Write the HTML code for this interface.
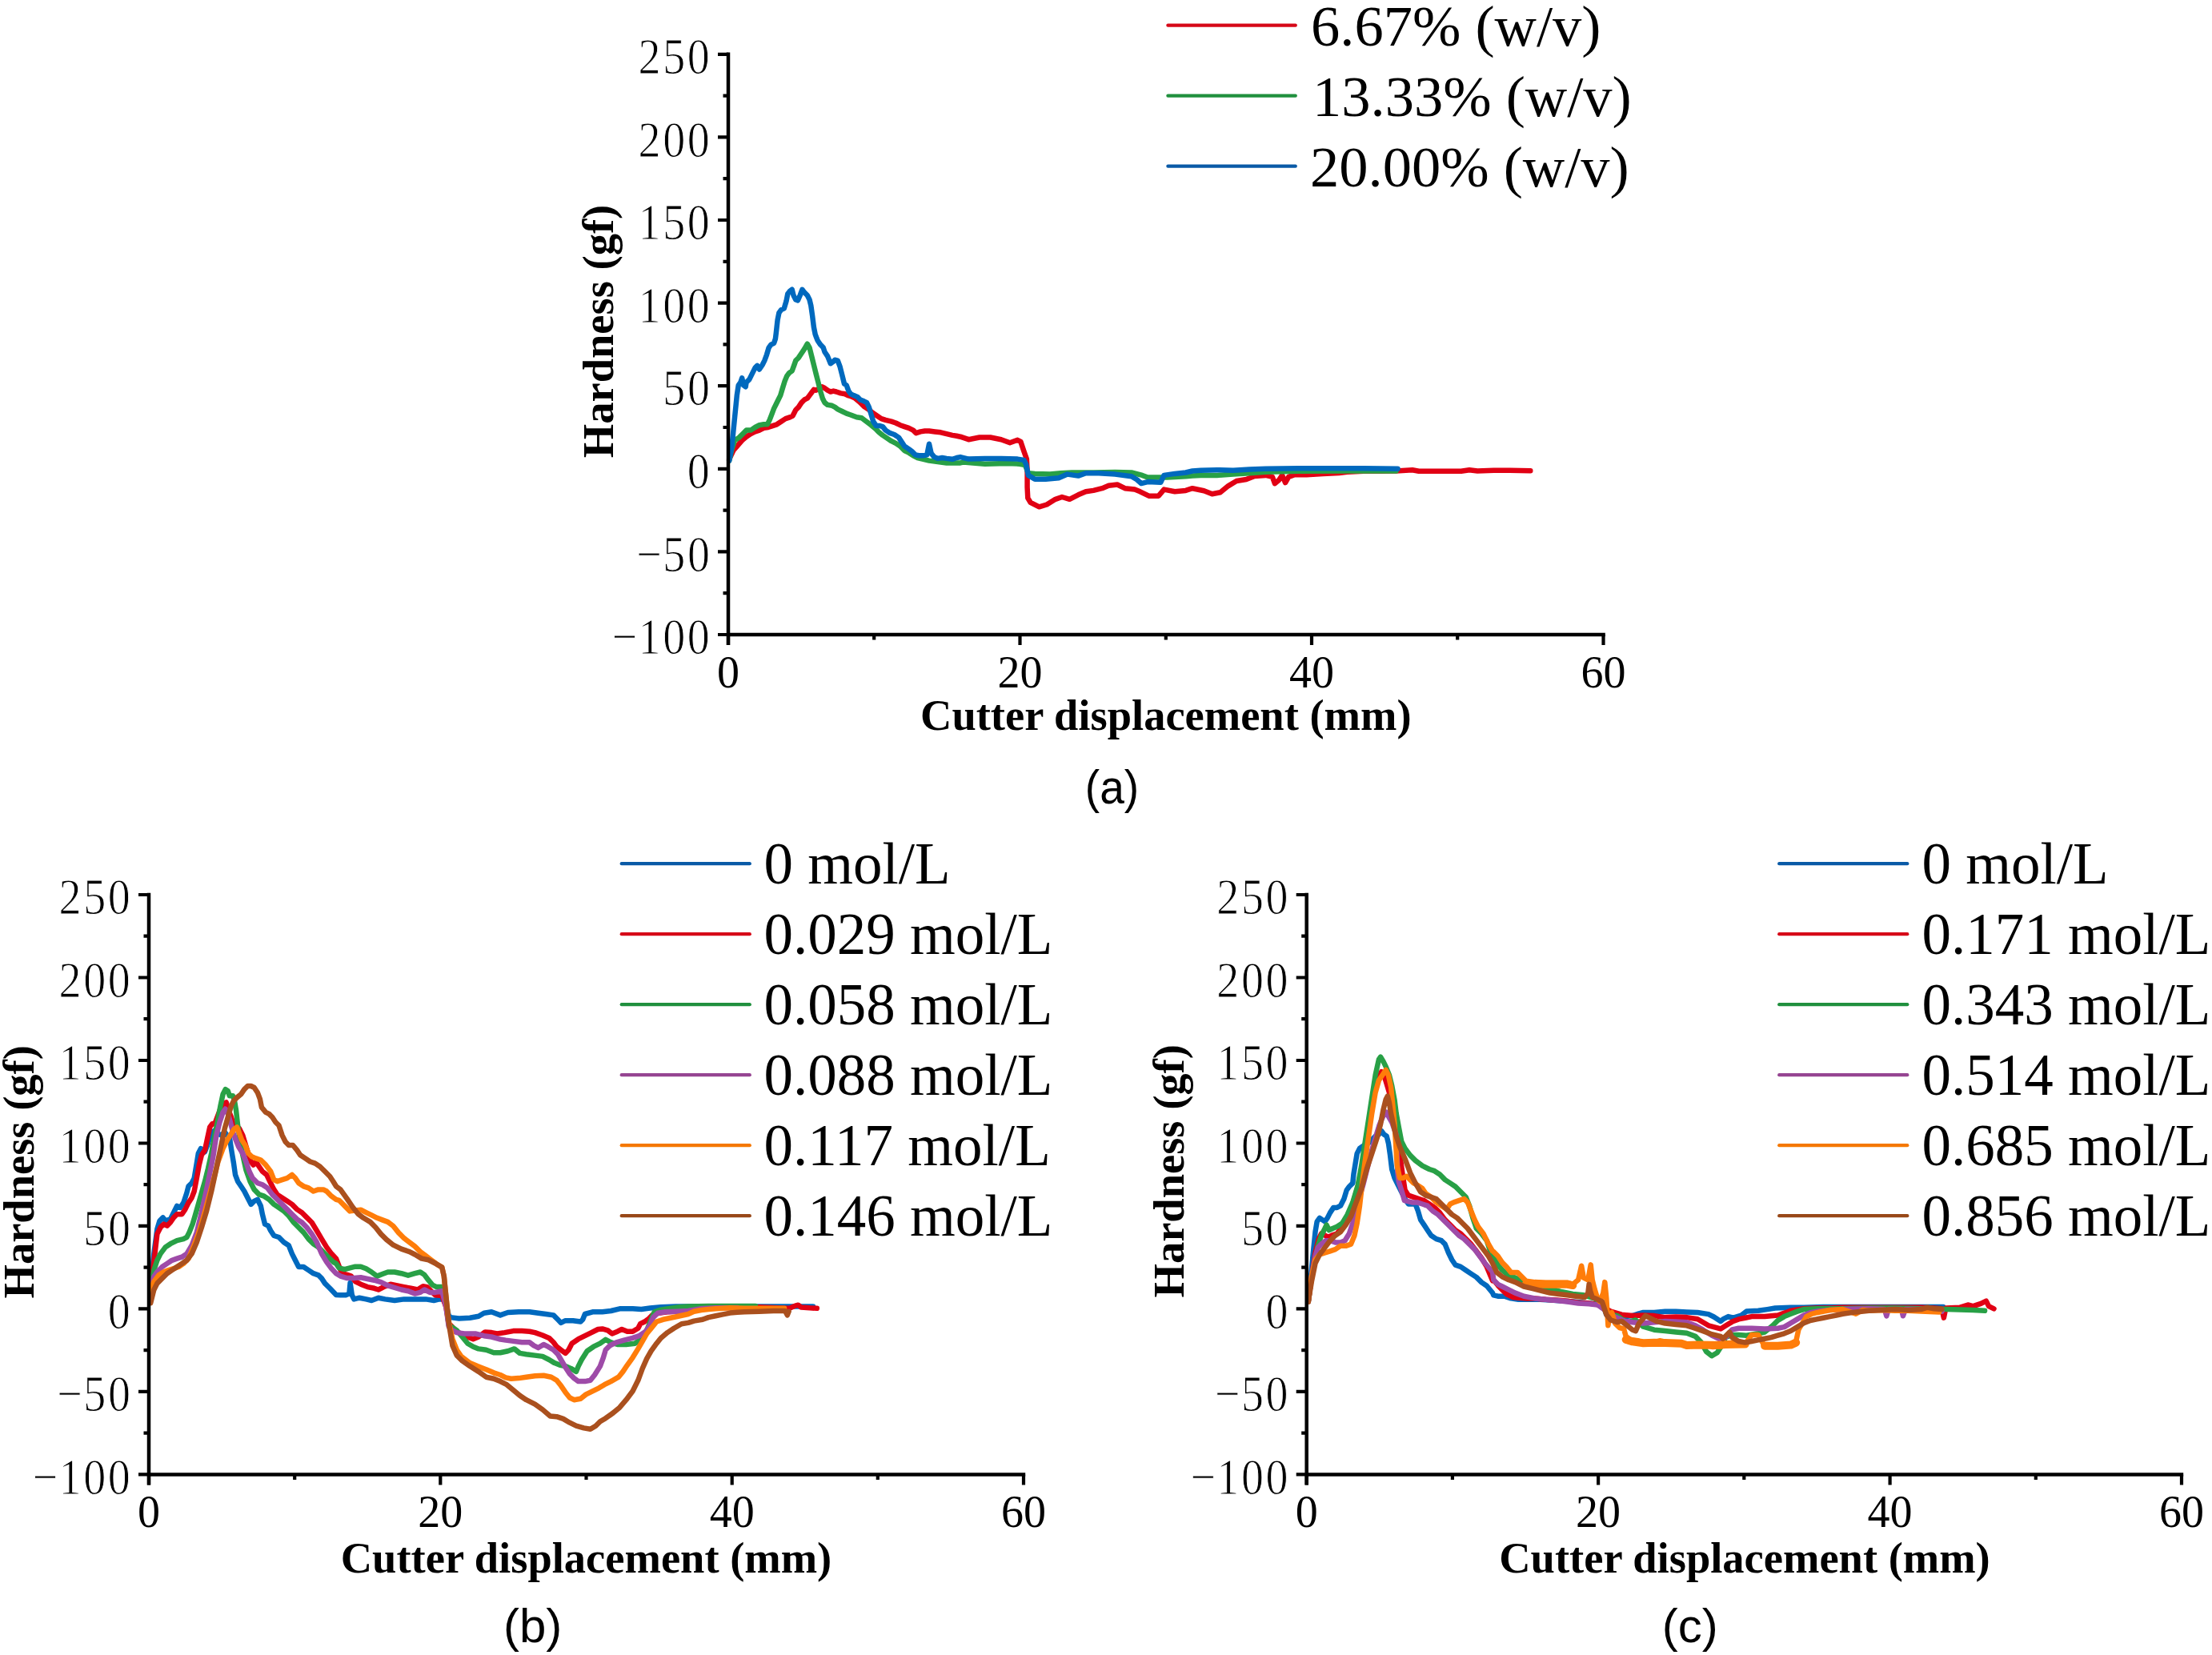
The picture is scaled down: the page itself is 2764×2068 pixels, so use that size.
<!DOCTYPE html>
<html><head><meta charset="utf-8"><title>Hardness vs cutter displacement</title>
<style>html,body{margin:0;padding:0;background:#fff;overflow:hidden}svg{display:block}</style>
</head><body>
<svg width="2764" height="2068" viewBox="0 0 2764 2068" font-family="'Liberation Serif','Times New Roman',serif" fill="#000">
<rect width="2764" height="2068" fill="#fff"/>
<path d="M911.2 573.8 L916.3 563 L921.8 556.6 L927.2 550.3 L932.6 545.7 L938.1 542.1 L943.5 539.4 L948.9 537.6 L954.4 534.9 L959.8 534 L965.3 532.1 L970.7 530.3 L976.1 526.7 L981.6 523.1 L987 521.3 L990.6 519.5 L994.3 512.2 L997.9 508.6 L1001.5 503.1 L1005.1 499.5 L1008.8 497.7 L1011.5 494.1 L1014.2 490.5 L1016.9 486.8 L1019.6 487.7 L1023.3 485.9 L1026.9 483.2 L1030.5 485 L1034.1 487.7 L1037.8 489.5 L1041.4 488.6 L1045 489.5 L1050.5 491.4 L1055.9 492.3 L1059.5 494.1 L1063.1 495 L1068.6 497.7 L1074 502.2 L1079.5 507.7 L1084.9 511.3 L1090.3 515.8 L1095.8 519.5 L1101.2 523.1 L1106.6 524.9 L1113.9 526.7 L1119.3 528.5 L1124.8 531.2 L1130.2 533.1 L1135.6 534.9 L1141.1 537.6 L1144.7 541.2 L1150.2 539.4 L1155.6 538.5 L1161 538.5 L1168.3 539.4 L1175.5 540.3 L1182.8 542.1 L1190 543.9 L1195.5 544.8 L1200 545.7 L1210.3 549.2 L1223.9 546.5 L1237.5 546.5 L1251 549.2 L1261.9 553.2 L1271.4 549.8 L1275.4 551.9 L1279.5 564.1 L1282.9 573.6 L1283.6 588.5 L1283.6 608.8 L1284.3 622.4 L1287.6 627.8 L1298.5 633.3 L1308 630.5 L1318.8 623.8 L1327 621 L1336.5 623.8 L1347.3 618.3 L1356.8 614.3 L1366.3 612.9 L1377.2 610.2 L1385.3 606.8 L1396.1 605.5 L1405.6 610.2 L1417.8 611.6 L1424.6 614.3 L1435.5 619.7 L1447.7 619.7 L1454.5 611.6 L1468 614.3 L1481.6 612.9 L1490 610.2 L1504.4 613.2 L1514.6 617.3 L1524.8 615.3 L1534.9 607.1 L1545.1 601 L1557.3 599 L1567.5 594.9 L1581.7 593.9 L1589.9 595.9 L1592.9 604.1 L1598 600 L1602.1 593.9 L1606.1 603.1 L1610.2 595.9 L1618.3 592.9 L1632.6 593.3 L1652.9 591.9 L1673.3 590.9 L1683.4 589.8 L1703.8 588.8 L1724.1 588.8 L1744.5 588.4 L1764.8 587.2 L1772.9 588.8 L1795.3 588.8 L1825.8 588.8 L1836 587.2 L1846.2 588.4 L1866.5 587.8 L1886.9 587.8 L1912.3 588.2" stroke="#e10014" stroke-width="6.5" fill="none" stroke-linejoin="round" stroke-linecap="round"/>
<path d="M911.2 575.6 L914.5 561.1 L918.1 550.3 L923.6 546.6 L929 541.2 L932.6 537.6 L938.1 537.6 L943.5 534 L948.9 531.2 L954.4 530.3 L958.9 530.3 L961.6 524.9 L964.4 517.6 L967.1 510.4 L969.8 505 L972.5 499.5 L975.2 494.1 L977.9 485 L980.7 476 L983.4 469.6 L986.1 466 L989.7 463.3 L992.4 456 L994.3 450.6 L997.9 446.9 L1001.5 441.5 L1005.1 436.1 L1008.8 429.7 L1011.5 434.3 L1014.2 445.1 L1016.9 456 L1019.6 466.9 L1022.4 477.8 L1025.1 488.6 L1027.8 497.7 L1030.5 503.1 L1034.1 505.9 L1039.6 506.8 L1043.2 508.6 L1046.8 511.3 L1052.3 514 L1057.7 516.7 L1063.1 518.5 L1070.4 521.3 L1076.7 522.2 L1081.3 525.8 L1088.5 531.2 L1094 535.8 L1097.6 539.4 L1103 543.9 L1108.5 547.6 L1113.9 551.2 L1119.3 553.9 L1124.8 557.5 L1130.2 563 L1135.6 565.7 L1141.1 569.3 L1146.5 572 L1153.8 573.8 L1161 575.6 L1168.3 576.6 L1175.5 577.5 L1182.8 578.4 L1190 578.4 L1200 578.4 L1203.6 577.6 L1230.7 579.7 L1257.8 579 L1274.1 579.7 L1280.9 581 L1284.9 591.2 L1293.1 591.9 L1312.1 592.6 L1325.6 591.2 L1339.2 590.5 L1366.3 590.5 L1393.4 589.9 L1413.8 590.5 L1427.3 593.9 L1434.1 596.6 L1450.4 596.6 L1458.5 596.6 L1468 596 L1481.6 595.3 L1490 594.6 L1500.3 593.9 L1520.7 593.9 L1541 592.5 L1561.4 591.3 L1581.7 589.8 L1622.4 588.8 L1683.4 588.4 L1744.5 588.4" stroke="#28a046" stroke-width="6.5" fill="none" stroke-linejoin="round" stroke-linecap="round"/>
<path d="M911.2 575.6 L914.5 557.5 L918.1 521.3 L920.8 494.1 L922.7 481.4 L925.4 477.8 L927.2 472.3 L929 481.4 L931.7 483.2 L932.6 477.8 L936.3 474.1 L939.9 466.9 L943.5 459.6 L946.2 456.9 L948.9 461.5 L952.6 456 L955.3 450.6 L958 443.3 L960.7 434.3 L963.4 430.6 L967.1 428.8 L968.9 423.4 L969.8 416.1 L971.6 399.8 L973.4 390.8 L976.1 387.1 L979.8 385.3 L982.5 376.3 L984.3 367.2 L987 363.6 L989.7 361.8 L991.5 369 L994.3 374.4 L997 375.3 L999.7 369 L1002.4 361.8 L1005.1 365.4 L1008.8 369 L1011.5 374.4 L1013.3 381.7 L1015.1 394.4 L1016.9 408.9 L1018.7 417.9 L1021.5 425.2 L1025.1 430.6 L1028.7 434.3 L1030.5 439.7 L1034.1 445.1 L1037.8 454.2 L1040.5 452.4 L1043.2 449.7 L1046.8 450.6 L1049.5 457.8 L1052.3 468.7 L1055 479.6 L1057.7 481.4 L1060.4 488.6 L1063.1 492.3 L1066.8 494.1 L1071.3 495.9 L1074.9 499.5 L1079.5 501.3 L1083.1 503.1 L1085.8 508.6 L1088.5 517.6 L1091.2 526.7 L1094.9 532.1 L1099.4 532.1 L1103 533.1 L1106.6 537.6 L1112.1 541.2 L1117.5 543 L1123 546.6 L1126.6 552.1 L1130.2 557.5 L1135.6 561.1 L1139.3 563.9 L1143.8 568.4 L1148.3 569.3 L1153.8 569.3 L1158.3 568.4 L1161 554.8 L1163.7 566.6 L1167.4 571.1 L1171.9 572.9 L1177.3 572 L1182.8 572.9 L1190 573.8 L1195.5 572 L1200 571.1 L1210.3 573.6 L1230.7 572.9 L1251 572.9 L1271.4 573.6 L1279.5 574.9 L1282.2 580.4 L1284.9 593.9 L1293.1 598.7 L1306.6 598.7 L1322.9 597.3 L1333.8 592.6 L1347.3 594.6 L1356.8 591.2 L1373.1 591.2 L1393.4 592.6 L1413.8 595.3 L1420.6 599.3 L1426 604.1 L1434.1 602.1 L1450.4 602.7 L1454.5 593.9 L1468 591.9 L1481.6 590.5 L1490 588.5 L1500.3 587.8 L1520.7 587.2 L1541 587.8 L1561.4 586.4 L1581.7 585.8 L1622.4 585.2 L1663.1 585.2 L1703.8 585.2 L1746.5 585.8" stroke="#0069be" stroke-width="6.5" fill="none" stroke-linejoin="round" stroke-linecap="round"/>
<path d="M188.2 1607.7 L192.3 1566.6 L196.4 1535.8 L199.5 1525.5 L203.6 1521.4 L206.7 1525.5 L212.9 1523.4 L217 1515.2 L221.1 1507 L225.2 1509 L229.3 1502.9 L233.4 1490.5 L235.5 1482.3 L239.6 1478.2 L242.7 1472.1 L245.8 1453.6 L247.8 1441.2 L250.9 1435.1 L256 1439.2 L259.1 1431 L262.2 1420.7 L265.3 1414.5 L268.4 1412.5 L272.5 1416.6 L276.6 1418.6 L280.7 1414.5 L283.8 1418.6 L286.8 1420.7 L288.9 1435.1 L292 1453.6 L294 1467.9 L297.1 1476.2 L301.2 1482.3 L305.3 1488.5 L309.5 1496.7 L313.6 1504.9 L317.7 1500.8 L321.8 1498.8 L325.9 1507 L327.9 1517.3 L331 1529.6 L335.1 1531.6 L338.2 1537.8 L342.3 1544 L348.5 1546 L354.7 1552.2 L360.8 1556.3 L364.9 1566.6 L369 1574.8 L373.2 1583 L379.3 1583 L385.5 1587.1 L391.6 1591.2 L397.8 1593.3 L401.9 1597.4 L406 1603.6 L412.2 1609.7 L420 1617.9 L425.4 1618.3 L432.1 1618.3 L436.4 1616.6 L437.6 1603 L439.8 1618.3 L442.3 1623.4 L449.1 1621.7 L457.5 1623.4 L464.3 1625 L472.8 1621.7 L481.2 1623.4 L493.1 1625 L504.9 1623.4 L518.4 1623.4 L532 1623.4 L542.1 1625 L548.9 1623.4 L554 1623.4 L557.4 1630.1 L560.7 1643.7 L562.7 1646.1 L573.6 1647.5 L587.1 1646.8 L598 1644.8 L604.8 1640.7 L614.2 1639.3 L625.1 1643.4 L634.6 1640 L648.2 1639.3 L661.7 1639.3 L672.6 1640.7 L682.1 1642 L691.6 1643.4 L697 1648.8 L701 1652.9 L706.5 1650.2 L716 1650.2 L725.5 1651.5 L728.2 1648.8 L730.9 1642 L740.4 1639.3 L752.6 1639.3 L763.4 1638 L774.3 1635.3 L790.6 1635.3 L801.4 1635.9 L812.3 1634.6 L825.8 1633.2 L844.8 1632.5 L860 1632.5 L870 1632.5 L1016 1632.5" stroke="#0069be" stroke-width="6.5" fill="none" stroke-linejoin="round" stroke-linecap="round"/>
<path d="M188.2 1607.7 L192.3 1576.8 L196.4 1541.9 L200.5 1533.7 L204.7 1529.6 L208.8 1531.6 L212.9 1527.5 L217 1521.4 L221.1 1517.3 L227.3 1517.3 L231.4 1511.1 L235.5 1502.9 L239.6 1496.7 L242.7 1488.5 L245.8 1472.1 L248.8 1455.6 L251.9 1443.3 L256 1437.1 L259.1 1422.7 L262.2 1408.4 L265.3 1404.2 L268.4 1404.2 L271.4 1396 L274.5 1387.8 L278.6 1379.6 L282.7 1377.5 L285.8 1387.8 L288.9 1396 L292 1406.3 L295.1 1406.3 L299.2 1410.4 L303.3 1418.6 L306.4 1428.9 L309.5 1439.2 L313.6 1451.5 L316.6 1455.6 L319.7 1451.5 L323.8 1457.7 L327.9 1463.8 L333.1 1467.9 L338.2 1478.2 L342.3 1486.4 L346.4 1492.6 L352.6 1496.7 L358.8 1500.8 L364.9 1504.9 L371.1 1511.1 L377.3 1515.2 L383.4 1521.4 L389.6 1527.5 L395.8 1537.8 L401.9 1548.1 L408.1 1558.4 L414.2 1566.6 L420 1572.7 L427.1 1591.2 L433.8 1592.9 L438.9 1594.6 L444 1601.4 L450.8 1604.7 L459.2 1608.1 L467.7 1609.8 L472.8 1611.5 L479.5 1608.1 L488 1604.7 L496.4 1606.4 L504.9 1608.1 L513.4 1609.8 L521.8 1611.5 L528.6 1607.3 L533.7 1608.1 L538.7 1613.2 L543.8 1618.3 L552.3 1619.1 L557.4 1633.5 L560.7 1653.8 L562.7 1655.6 L570.8 1663.7 L580.3 1669.2 L591.2 1673.2 L598 1670.5 L606.1 1664.4 L614.2 1665.1 L621 1666.5 L630.5 1665.1 L641.4 1663.1 L652.2 1663.1 L661.7 1663.7 L668.5 1665.1 L678 1668.5 L686.1 1671.9 L691.6 1677.3 L695.6 1682.7 L701 1686.8 L706.5 1690.9 L710.5 1686.8 L714.6 1678.7 L722.7 1673.2 L730.9 1669.2 L739 1665.1 L747.2 1661 L752.6 1660.4 L759.4 1662.4 L764.8 1666.5 L771.6 1663.7 L777 1661 L783.8 1663.7 L790.6 1663.7 L797.3 1659.7 L800.1 1654.2 L805.5 1651.5 L810.9 1647.5 L815 1643.4 L823.1 1640.7 L834 1639.3 L844.8 1638.7 L860 1638 L876.2 1633.2 L912.3 1633.2 L948.5 1633.2 L986.5 1634.8 L993.7 1631.6 L997.3 1630.7 L1000.9 1633.4 L1011.8 1634.3 L1020.8 1634.8" stroke="#e10014" stroke-width="6.5" fill="none" stroke-linejoin="round" stroke-linecap="round"/>
<path d="M188.2 1607.7 L192.3 1587.1 L196.4 1574.8 L200.5 1566.6 L206.7 1558.4 L212.9 1554.2 L221.1 1550.1 L229.3 1548.1 L233.4 1546 L236.5 1539.9 L240.6 1529.6 L243.7 1519.3 L247.8 1504.9 L251.9 1490.5 L256 1476.2 L260.1 1459.7 L264.2 1441.2 L268.4 1418.6 L272.5 1398.1 L275.5 1381.6 L278.6 1367.3 L281.7 1361.1 L284.8 1363.2 L286.8 1369.3 L291 1369.3 L293 1375.5 L295.1 1387.8 L297.1 1406.3 L300.2 1426.8 L303.3 1443.3 L307.4 1461.8 L312.5 1476.2 L317.7 1486.4 L323.8 1492.6 L330 1494.7 L336.2 1498.8 L342.3 1504.9 L348.5 1509 L354.7 1513.2 L360.8 1519.3 L367 1527.5 L373.2 1533.7 L379.3 1539.9 L385.5 1548.1 L391.6 1554.2 L397.8 1558.4 L404 1564.5 L410.1 1570.7 L416.3 1576.8 L420 1578.9 L423.7 1584.4 L430.5 1586.1 L437.2 1584.4 L444 1582.7 L450.8 1582.7 L457.5 1585.3 L464.3 1589.5 L471.1 1594.6 L477.8 1592 L484.6 1589.5 L493.1 1589.5 L501.5 1591.2 L510 1593.7 L518.4 1591.2 L525.2 1589.5 L530.3 1592.9 L535.4 1599.7 L540.4 1605.6 L545.5 1608.1 L553.1 1608.1 L557.4 1628.4 L560.7 1655.5 L562.7 1657 L570.8 1662.4 L577.6 1670.5 L584.4 1678.7 L591.2 1682.7 L598 1685.4 L607.5 1686.8 L617 1690.2 L625.1 1690.2 L634.6 1688.2 L642.7 1685.4 L649.5 1690.9 L657.6 1692.2 L668.5 1693.6 L678 1694.9 L686.1 1699 L692.9 1703.1 L699.7 1705.8 L706.5 1707.1 L713.3 1709.9 L720 1713.9 L722.7 1707.1 L726.8 1699 L733.6 1688.2 L741.7 1682.7 L749.9 1678.7 L756.7 1673.9 L763.4 1677.3 L771.6 1680 L782.4 1680 L793.3 1678.7 L801.4 1673.2 L808.2 1662.4 L813.6 1648.8 L817.7 1639.3 L825.8 1636.6 L838 1634.6 L848.9 1633.2 L860 1632.5 L885.2 1632.1 L912.3 1632.1 L944 1632.1" stroke="#28a046" stroke-width="6.5" fill="none" stroke-linejoin="round" stroke-linecap="round"/>
<path d="M188.2 1607.7 L192.3 1595.3 L196.4 1589.2 L202.6 1583 L208.8 1578.9 L214.9 1574.8 L221.1 1572.7 L227.3 1570.7 L233.4 1566.6 L239.6 1556.3 L245.8 1539.9 L249.9 1523.4 L254 1504.9 L258.1 1486.4 L262.2 1465.9 L266.3 1445.3 L270.4 1418.6 L274.5 1402.2 L278.6 1389.9 L281.7 1385.8 L284.8 1391.9 L287.9 1402.2 L291 1414.5 L294 1422.7 L298.2 1433 L303.3 1441.2 L307.4 1451.5 L311.5 1463.8 L315.6 1472.1 L321.8 1478.2 L327.9 1480.3 L334.1 1484.4 L340.3 1492.6 L346.4 1498.8 L352.6 1504.9 L358.8 1511.1 L364.9 1517.3 L371.1 1523.4 L377.3 1527.5 L383.4 1533.7 L389.6 1541.9 L395.8 1552.2 L401.9 1566.6 L408.1 1576.8 L414.2 1585.1 L420 1591.2 L425.4 1594.6 L433.8 1597.1 L442.3 1597.1 L450.8 1596.3 L459.2 1598 L467.7 1599.7 L476.1 1602.2 L484.6 1606.4 L493.1 1609 L501.5 1611.5 L510 1613.2 L518.4 1616.6 L525.2 1614.9 L530.3 1611.5 L537.1 1614.9 L543.8 1614.9 L552.3 1613.2 L557.4 1633.5 L560.7 1657.2 L562.7 1661 L570.8 1665.1 L580.3 1666.5 L593.9 1666.5 L604.8 1669.2 L614.2 1670.5 L623.7 1673.2 L631.9 1674.6 L641.4 1675.9 L652.2 1677.3 L661.7 1677.3 L667.1 1681.4 L672.6 1684.1 L679.3 1680 L684.8 1682.7 L691.6 1686.8 L697 1692.2 L701 1699 L706.5 1708.5 L711.9 1716.6 L717.3 1722.1 L722.7 1726.1 L730.9 1726.1 L737.7 1724.8 L743.1 1718 L749.9 1707.1 L753.9 1696.3 L756.7 1686.8 L762.1 1681.4 L770.2 1677.3 L779.7 1674.6 L790.6 1671.9 L798.7 1669.2 L806.8 1663.7 L812.3 1655.6 L816.3 1646.1 L821.8 1640.7 L831.2 1639.3 L844.8 1638.7 L860 1638 L876.2 1635.2 L894.2 1634.3 L921.4 1633.9" stroke="#9e4ba8" stroke-width="6.5" fill="none" stroke-linejoin="round" stroke-linecap="round"/>
<path d="M188.2 1611.8 L192.3 1601.5 L198.5 1593.3 L204.7 1589.2 L210.8 1587.1 L217 1585.1 L223.2 1583 L229.3 1578.9 L235.5 1572.7 L241.6 1558.4 L247.8 1541.9 L254 1521.4 L260.1 1498.8 L266.3 1476.2 L272.5 1451.5 L278.6 1435.1 L283.8 1424.8 L288.9 1416.6 L293 1410.4 L296.1 1408.4 L299.2 1416.6 L302.3 1424.8 L306.4 1431 L310.5 1441.2 L314.6 1445.3 L319.7 1447.4 L325.9 1449.5 L332.1 1455.6 L338.2 1463.8 L342.3 1474.1 L346.4 1476.2 L352.6 1474.1 L358.8 1472.1 L364.9 1467.9 L369 1472.1 L373.2 1478.2 L379.3 1482.3 L385.5 1484.4 L391.6 1488.5 L397.8 1486.4 L404 1486.4 L408.1 1488.5 L414.2 1494.7 L420 1498.8 L423.7 1499.8 L430.5 1506.6 L437.2 1513.4 L444 1512.5 L450.8 1511.7 L457.5 1515.1 L464.3 1518.4 L471.1 1521.8 L477.8 1524.4 L484.6 1526.9 L491.4 1532 L498.1 1540.4 L504.9 1547.2 L511.7 1552.3 L518.4 1557.4 L525.2 1564.1 L532 1569.2 L538.7 1574.3 L545.5 1579.4 L552.3 1583.6 L554.8 1594.6 L556.5 1611.5 L558.2 1628.4 L559.9 1645.3 L561.4 1654.2 L565.4 1673.2 L570.8 1686.8 L576.3 1694.9 L587.1 1703.1 L596.6 1707.1 L607.5 1711.2 L617 1715.3 L625.1 1718 L631.9 1721.4 L638.7 1722.7 L648.2 1722.1 L657.6 1720.7 L668.5 1719.3 L679.3 1718.7 L688.8 1720.7 L695.6 1724.8 L701 1731.6 L706.5 1739.7 L711.9 1746.5 L717.3 1749.2 L725.5 1747.8 L732.2 1742.4 L740.4 1738.3 L748.5 1734.3 L755.3 1730.2 L763.4 1726.1 L772.9 1720.7 L778.4 1713.9 L783.8 1705.8 L790.6 1696.3 L797.3 1685.4 L802.8 1675.9 L808.2 1666.5 L815 1658.3 L820.4 1651.5 L828.5 1648.8 L838 1646.8 L847.5 1644.8 L860 1642 L867.1 1638.8 L876.2 1637 L885.2 1636.1 L894.2 1635.2 L912.3 1634.3 L930.4 1634.8 L948.5 1634.8 L966.6 1634.8 L980.1 1634.8" stroke="#ff7d0a" stroke-width="6.5" fill="none" stroke-linejoin="round" stroke-linecap="round"/>
<path d="M188.2 1628.2 L192.3 1611.8 L196.4 1603.6 L202.6 1597.4 L208.8 1591.2 L214.9 1587.1 L221.1 1583 L227.3 1578.9 L233.4 1574.8 L239.6 1566.6 L245.8 1552.2 L251.9 1533.7 L258.1 1513.2 L264.2 1488.5 L270.4 1459.7 L275.5 1435.1 L280.7 1410.4 L284.8 1396 L288.9 1381.6 L292 1375.5 L296.1 1371.4 L301.2 1367.3 L305.3 1361.1 L309.5 1357 L313.6 1357 L317.7 1359 L321.8 1365.2 L324.9 1373.4 L326.9 1383.7 L332.1 1389.9 L336.2 1391.9 L340.3 1396 L344.4 1402.2 L348.5 1406.3 L352.6 1418.6 L356.7 1426.8 L360.8 1431 L366 1431 L371.1 1437.1 L375.2 1443.3 L381.4 1447.4 L387.5 1451.5 L393.7 1453.6 L399.9 1457.7 L406 1463.8 L412.2 1470 L416.3 1476.2 L420 1482.3 L425.4 1486.3 L433.8 1498.1 L440.6 1508.3 L447.4 1516.8 L454.1 1521.8 L462.6 1526.9 L469.4 1533.7 L476.1 1542.1 L482.9 1548.9 L491.4 1555.7 L501.5 1560.7 L511.7 1564.1 L518.4 1567.5 L526.9 1572.6 L535.4 1574.3 L543.8 1578.5 L552.3 1583.6 L554.8 1594.6 L556.5 1611.5 L558.2 1628.4 L559.9 1645.3 L562 1661 L565.4 1681.4 L570.8 1693.6 L577.6 1700.4 L587.1 1707.1 L598 1713.9 L607.5 1720.7 L617 1722.7 L625.1 1726.1 L633.2 1730.2 L641.4 1737 L649.5 1743.8 L657.6 1749.2 L668.5 1754.6 L678 1761.4 L687.5 1769.5 L695.6 1770.2 L703.8 1772.9 L711.9 1777.7 L720 1781.7 L729.5 1784.4 L737.7 1785.8 L744.4 1781.7 L749.9 1776.3 L756.7 1772.2 L766.1 1765.5 L774.3 1758.7 L782.4 1749.2 L790.6 1738.3 L797.3 1724.8 L802.8 1709.9 L808.2 1697.6 L813.6 1688.2 L820.4 1678.7 L825.8 1671.9 L834 1665.1 L842.1 1659.7 L851.6 1654.2 L860 1652.9 L867.1 1650.6 L878 1648.8 L885.2 1646.1 L894.2 1644.2 L903.3 1642.4 L912.3 1640.6 L921.4 1639.7 L930.4 1639.3 L948.5 1638.8 L966.6 1637.9 L981 1637.9 L983.8 1643.3 L985.6 1638.8" stroke="#aa501e" stroke-width="6.5" fill="none" stroke-linejoin="round" stroke-linecap="round"/>
<path d="M1634.8 1626.4 L1638.1 1593.7 L1641.3 1561.1 L1643.5 1539.3 L1645.7 1526.3 L1648.9 1521.9 L1652.2 1524.1 L1655.5 1526.3 L1658.7 1521.9 L1662 1515.4 L1666.3 1508.9 L1670.7 1508.9 L1675 1506.7 L1679.4 1498 L1682.7 1487.1 L1685.9 1482.8 L1690.3 1478.4 L1691.4 1467.5 L1693.5 1454.5 L1695.7 1441.4 L1699 1434.9 L1702.2 1432.7 L1705.5 1430.6 L1709.9 1428.4 L1714.2 1424 L1718.6 1419.7 L1722.9 1417.5 L1726.2 1413.1 L1729.4 1417.5 L1732.7 1419.7 L1734.9 1428.4 L1737.1 1443.6 L1739.2 1461 L1742.5 1471.9 L1746.8 1480.6 L1751.2 1489.3 L1755.6 1498 L1759.9 1504.5 L1764.3 1504.5 L1768.6 1504.5 L1771.9 1513.2 L1775.1 1524.1 L1779.5 1530.6 L1783.8 1537.2 L1788.2 1543.7 L1794.7 1548.1 L1801.2 1550.2 L1805.6 1554.6 L1810 1565.5 L1814.3 1574.2 L1818.7 1580.7 L1825.2 1582.9 L1831.7 1587.2 L1838.2 1591.6 L1844.8 1595.9 L1851.3 1602.4 L1857.8 1606.8 L1865 1615.5 L1866.3 1618.3 L1871.7 1619.7 L1879.8 1619.7 L1888 1622.4 L1897.5 1623.8 L1911 1623.8 L1924.6 1623.8 L1944.9 1625.1 L1965.3 1626.5 L1978.8 1627.8 L1992.4 1629.2 L1999.2 1630.5 L2004.6 1634.6 L2007.3 1642.7 L2012.7 1645.5 L2026.3 1645.5 L2039.9 1644.1 L2048 1641.4 L2053.4 1640 L2067 1640 L2080.6 1638.7 L2094.1 1638.7 L2107.7 1639.4 L2121.2 1640 L2134.8 1642.1 L2141.6 1645.5 L2150 1650.9 L2153 1648.4 L2159.5 1645.1 L2166 1646.7 L2175.8 1643.5 L2182.3 1638.6 L2197 1637.8 L2208.4 1636.1 L2218.1 1634.5 L2237.6 1633.7 L2253.9 1633.7 L2278.3 1632.9 L2302.7 1632.9 L2335.3 1632.9 L2367.8 1632.9 L2400.4 1632.9 L2428.1 1632.9" stroke="#0069be" stroke-width="6.5" fill="none" stroke-linejoin="round" stroke-linecap="round"/>
<path d="M1634.8 1626.4 L1639.1 1593.7 L1643.5 1565.5 L1647.8 1548.1 L1651.1 1541.5 L1655.5 1543.7 L1659.8 1545.9 L1664.2 1543.7 L1670.7 1541.5 L1677.2 1532.8 L1683.7 1519.8 L1690.3 1504.5 L1696.8 1482.8 L1701.2 1461 L1705.5 1434.9 L1709.9 1408.8 L1714.2 1382.7 L1718.6 1360.9 L1722.9 1345.7 L1726.2 1339.2 L1729.4 1343.5 L1732.7 1354.4 L1736 1365.3 L1739.2 1380.5 L1742.5 1395.7 L1745.8 1415.3 L1749 1441.4 L1752.3 1465.4 L1755.6 1487.1 L1759.9 1493.7 L1766.4 1495.8 L1773 1498 L1779.5 1500.2 L1786 1504.5 L1792.5 1508.9 L1799.1 1515.4 L1805.6 1524.1 L1812.1 1530.6 L1818.7 1537.2 L1825.2 1541.5 L1831.7 1548.1 L1838.2 1554.6 L1844.8 1563.3 L1851.3 1572 L1857.8 1582.9 L1865 1600.3 L1866.3 1599.3 L1871.7 1606.1 L1877.1 1611.6 L1882.5 1617 L1890.7 1621 L1897.5 1621.7 L1908.3 1622.4 L1917.8 1622.4 L1931.4 1623.8 L1944.9 1624.4 L1958.5 1625.8 L1972.1 1627.8 L1985.6 1628.5 L1999.2 1630.5 L2006 1634.6 L2012.7 1638.7 L2019.5 1640.7 L2026.3 1642.7 L2039.9 1644.1 L2053.4 1643.4 L2067 1644.1 L2080.6 1646.1 L2094.1 1645.5 L2107.7 1646.1 L2121.2 1648.2 L2128 1652.2 L2134.8 1656.3 L2150 1660.4 L2156.3 1656.5 L2164.4 1651.6 L2172.5 1648.4 L2180.7 1646.7 L2188.8 1645.1 L2205.1 1645.1 L2221.4 1643.5 L2231.1 1640.2 L2237.6 1637.8 L2253.9 1635.3 L2270.2 1634.5 L2286.5 1634.5 L2302.7 1633.7 L2335.3 1633.7 L2367.8 1633.7 L2400.4 1633.7 L2416.7 1634.5 L2426.4 1635.3 L2428.9 1646.7 L2431.3 1634.5 L2449.2 1633.7 L2459 1630.5 L2465.5 1632.1 L2475.3 1628.8 L2481.8 1625.6 L2485 1632.1 L2491.5 1635.3" stroke="#e10014" stroke-width="6.5" fill="none" stroke-linejoin="round" stroke-linecap="round"/>
<path d="M1634.8 1626.4 L1639.1 1593.7 L1643.5 1572 L1646.8 1556.8 L1651.1 1543.7 L1655.5 1535 L1657.6 1530.6 L1660.9 1537.2 L1665.3 1535 L1670.7 1532.8 L1677.2 1528.5 L1683.7 1517.6 L1690.3 1502.4 L1696.8 1480.6 L1701.2 1456.7 L1705.5 1428.4 L1709.9 1400.1 L1714.2 1371.8 L1718.6 1343.5 L1722.9 1323.9 L1725.1 1320.7 L1728.4 1326.1 L1731.6 1332.6 L1736 1343.5 L1739.2 1356.6 L1742.5 1374 L1744.7 1391.4 L1747.9 1408.8 L1751.2 1426.2 L1755.6 1434.9 L1762.1 1443.6 L1768.6 1450.1 L1777.3 1456.7 L1786 1461 L1792.5 1463.2 L1799.1 1467.5 L1805.6 1474.1 L1812.1 1478.4 L1818.7 1482.8 L1825.2 1489.3 L1831.7 1495.8 L1836.1 1506.7 L1840.4 1521.9 L1844.8 1535 L1851.3 1541.5 L1857.8 1550.2 L1865 1572 L1866.3 1570.9 L1871.7 1580.4 L1877.1 1587.1 L1885.3 1593.9 L1893.4 1596.6 L1904.2 1602.1 L1917.8 1606.1 L1936.8 1610.2 L1951.7 1614.3 L1965.3 1617 L1978.8 1618.3 L1992.4 1622.4 L1999.2 1626.5 L2006 1637.3 L2012.7 1642.7 L2020.9 1644.1 L2026.3 1648.2 L2034.4 1652.2 L2043.9 1649.5 L2053.4 1657.7 L2067 1661.7 L2080.6 1663.1 L2094.1 1664.4 L2107.7 1665.8 L2118.5 1669.9 L2125.3 1676.7 L2132.1 1688.9 L2138.9 1694.3 L2145.7 1690.2 L2150 1683.4 L2156.3 1671.1 L2164.4 1667.9 L2172.5 1667.9 L2182.3 1668.7 L2197 1666.3 L2205.1 1664.6 L2214.9 1656.5 L2221.4 1650 L2229.5 1645.1 L2237.6 1641.8 L2245.8 1638.6 L2253.9 1636.1 L2270.2 1635.3 L2286.5 1635.3 L2302.7 1635.3 L2335.3 1634.5 L2367.8 1634.5 L2400.4 1635.3 L2432.9 1636.1 L2465.5 1637 L2480.1 1637.8" stroke="#28a046" stroke-width="6.5" fill="none" stroke-linejoin="round" stroke-linecap="round"/>
<path d="M1634.8 1626.4 L1639.1 1593.7 L1643.5 1569.8 L1646.8 1558.9 L1651.1 1554.6 L1656.6 1550.2 L1662 1550.2 L1668.5 1552.4 L1675 1552.4 L1680.5 1550.2 L1685.9 1541.5 L1690.3 1528.5 L1694.6 1513.2 L1699 1495.8 L1703.8 1478.4 L1708.8 1458.8 L1713.6 1439.3 L1718.6 1421.8 L1723.3 1406.6 L1727.3 1396.8 L1729.9 1391.4 L1732.1 1389.6 L1734.2 1393.6 L1739.2 1402.3 L1744.5 1417.5 L1745.1 1434.9 L1746 1452.3 L1746.4 1465.4 L1747.7 1476.2 L1752.5 1491.5 L1754.9 1500.2 L1764.3 1502.4 L1770.8 1502.4 L1777.3 1504.5 L1783.8 1506.7 L1790.4 1513.2 L1796.9 1517.6 L1803.4 1524.1 L1810 1530.6 L1816.5 1537.2 L1823 1543.7 L1829.5 1548.1 L1836.1 1554.6 L1842.6 1561.1 L1849.1 1569.8 L1855.6 1578.5 L1865 1589.4 L1866.3 1599.3 L1871.7 1604.8 L1877.1 1607.5 L1885.3 1611.6 L1893.4 1615.6 L1904.2 1619.7 L1917.8 1622.4 L1931.4 1623.8 L1944.9 1625.1 L1958.5 1626.5 L1972.1 1628.5 L1985.6 1629.2 L1996.5 1630.5 L2006 1637.3 L2012.7 1642.7 L2020.9 1646.8 L2030.4 1650.9 L2039.9 1652.2 L2053.4 1653.6 L2067 1652.2 L2080.6 1650.9 L2094.1 1651.6 L2107.7 1652.2 L2118.5 1656.3 L2128 1661.7 L2138.9 1668.5 L2150 1673.9 L2156.3 1671.1 L2164.4 1661.4 L2172.5 1659.7 L2188.8 1659.7 L2205.1 1660.6 L2221.4 1659.7 L2229.5 1658.1 L2237.6 1653.2 L2245.8 1648.4 L2253.9 1643.5 L2262.1 1640.2 L2270.2 1638.6 L2286.5 1637 L2302.7 1636.1 L2335.3 1635.3 L2354.8 1636.1 L2357.3 1644.3 L2359.7 1636.1 L2376 1636.1 L2377.9 1644.3 L2380.9 1636.1 L2400.4 1636.1 L2416.7 1636.1 L2426.4 1638.6" stroke="#9e4ba8" stroke-width="6.5" fill="none" stroke-linejoin="round" stroke-linecap="round"/>
<path d="M1907 1604.1 L1917.8 1604.5 L1931.4 1604.8 L1944.9 1604.8 L1958.5 1604.8 L1965.3 1606.1" stroke="#ff7d0a" stroke-width="10" fill="none" stroke-linejoin="round" stroke-linecap="round"/>
<path d="M2031.7 1673.9 L2039.9 1676.4 L2053.4 1678.3 L2067 1677.7 L2080.6 1678 L2100.9 1678.7 L2107.7 1681 L2121.2 1680.5 L2150 1681" stroke="#ff7d0a" stroke-width="10" fill="none" stroke-linejoin="round" stroke-linecap="round"/>
<path d="M2140 1681.2 L2156.3 1680.1 L2180.7 1679.6" stroke="#ff7d0a" stroke-width="10" fill="none" stroke-linejoin="round" stroke-linecap="round"/>
<path d="M2205.1 1681.7 L2221.4 1681.7 L2237.6 1680.6 L2244.2 1677.6" stroke="#ff7d0a" stroke-width="10" fill="none" stroke-linejoin="round" stroke-linecap="round"/>
<path d="M1634.8 1626.4 L1639.1 1593.7 L1643.5 1574.2 L1648.9 1567.6 L1655.5 1565.5 L1662 1563.3 L1668.5 1561.1 L1675 1556.8 L1681.6 1556.8 L1688.1 1554.6 L1692.5 1543.7 L1695.7 1528.5 L1699 1506.7 L1702.2 1478.4 L1705.5 1452.3 L1709.9 1421.8 L1714.2 1391.4 L1718.6 1365.3 L1722.9 1350 L1727.3 1343.5 L1731.6 1337 L1734.9 1343.5 L1738.1 1358.7 L1740.3 1380.5 L1742.5 1404.4 L1744.2 1430.6 L1745.8 1456.7 L1749 1471.9 L1753.4 1471.9 L1757.7 1469.7 L1762.1 1474.1 L1766.4 1478.4 L1770.8 1480.6 L1777.3 1485 L1781.7 1491.5 L1788.2 1495.8 L1794.7 1502.4 L1801.2 1506.7 L1807.8 1511.1 L1812.1 1504.5 L1816.5 1502.4 L1823 1500.2 L1829.5 1498 L1833.9 1502.4 L1838.2 1513.2 L1842.6 1524.1 L1846.9 1532.8 L1853.5 1541.5 L1860 1554.6 L1865 1563.3 L1866.3 1564.1 L1871.7 1569.5 L1877.1 1577.6 L1882.5 1583.1 L1888 1589.9 L1896.1 1589.9 L1901.5 1595.3 L1907 1600.7 L1917.8 1602.1 L1931.4 1602.7 L1944.9 1602.7 L1958.5 1602.7 L1965.3 1604.8 L1972.1 1599.3 L1976.1 1581.7 L1978.8 1596.6 L1984.3 1599.3 L1987.7 1580.4 L1989.7 1599.3 L1992.4 1610.2 L1996.5 1623.8 L1999.2 1626.5 L2003.3 1615.6 L2005.3 1602.1 L2007.3 1622.4 L2009.4 1656.3 L2011.4 1642.7 L2014.1 1640 L2018.2 1653.6 L2023.6 1659 L2029 1660.4 L2031.7 1669.9 L2037.2 1673.9 L2046.7 1675.3 L2053.4 1678 L2060.2 1679.4 L2073.8 1675.3 L2080.6 1676.7 L2087.3 1678 L2100.9 1678 L2107.7 1680.7 L2114.5 1682.1 L2121.2 1679.4 L2134.8 1680.7 L2150 1680.7 L2156.3 1679.3 L2164.4 1677.6 L2172.5 1677.6 L2180.7 1679.3 L2188.8 1667.9 L2197 1667.9 L2205.1 1682.5 L2213.2 1680.9 L2221.4 1680.9 L2229.5 1680.9 L2237.6 1679.3 L2244.2 1676 L2247.4 1661.4 L2252.3 1653.2 L2257.2 1645.1 L2263.7 1641.8 L2270.2 1640.2 L2286.5 1637 L2302.7 1636.1 L2319 1641.8 L2327.2 1637 L2335.3 1637.8 L2351.6 1637 L2367.8 1637.8 L2384.1 1637.8 L2400.4 1638.6 L2423.2 1639.4" stroke="#ff7d0a" stroke-width="6.5" fill="none" stroke-linejoin="round" stroke-linecap="round"/>
<path d="M1634.8 1626.4 L1639.1 1600.3 L1643.5 1578.5 L1648.9 1567.6 L1655.5 1558.9 L1662 1550.2 L1668.5 1543.7 L1675 1539.3 L1681.6 1530.6 L1688.1 1519.8 L1694.6 1502.4 L1701.2 1485 L1707.7 1461 L1714.2 1441.4 L1720.7 1421.8 L1725.1 1404.4 L1728.4 1387 L1731.6 1374 L1733.8 1369.6 L1736 1378.3 L1738.1 1391.4 L1741.4 1406.6 L1744.7 1419.7 L1749 1432.7 L1755.6 1448 L1762.1 1465.4 L1768.6 1478.4 L1775.1 1489.3 L1781.7 1493.7 L1788.2 1495.8 L1794.7 1498 L1801.2 1504.5 L1807.8 1511.1 L1814.3 1517.6 L1820.8 1521.9 L1827.4 1528.5 L1833.9 1535 L1840.4 1543.7 L1846.9 1552.4 L1853.5 1561.1 L1860 1569.8 L1865 1578.5 L1870.3 1589.9 L1877.1 1595.3 L1885.3 1599.3 L1893.4 1602.1 L1904.2 1607.5 L1915.1 1610.2 L1925.9 1612.9 L1936.8 1615.6 L1947.6 1617 L1958.5 1618.3 L1969.3 1619.7 L1980.2 1621 L1984.3 1615.6 L1985.6 1604.8 L1987 1612.9 L1989.7 1621 L1996.5 1623.8 L2001.9 1626.5 L2004.6 1634.6 L2007.3 1642.7 L2012.7 1649.5 L2020.9 1652.2 L2026.3 1650.9 L2033.1 1656.3 L2039.9 1661.7 L2043.9 1663.1 L2048 1653.6 L2056.1 1644.1 L2061.6 1646.8 L2069.7 1650.9 L2080.6 1653.6 L2094.1 1655 L2107.7 1656.3 L2115.8 1659 L2128 1663.1 L2138.9 1667.2 L2150 1669.9 L2153 1672.8 L2161.2 1664.6 L2164.4 1671.1 L2172.5 1676 L2180.7 1677.6 L2188.8 1676 L2197 1674.4 L2205.1 1672.8 L2213.2 1671.1 L2221.4 1668.7 L2229.5 1666.3 L2237.6 1663 L2245.8 1658.1 L2253.9 1653.2 L2262.1 1650 L2270.2 1648.4 L2278.3 1646.7 L2286.5 1645.1 L2294.6 1643.5 L2302.7 1641.8 L2319 1639.4 L2335.3 1637.8 L2351.6 1637 L2367.8 1636.1 L2384.1 1637 L2400.4 1636.1 L2408.5 1633.7 L2416.7 1635.3 L2426.4 1636.1" stroke="#aa501e" stroke-width="6.5" fill="none" stroke-linejoin="round" stroke-linecap="round"/>
<path d="M910 65.5V806M907.8 793H2005.8" stroke="#000" stroke-width="4.5" fill="none"/>
<path d="M897 793H910M903.5 741.2H910M897 689.4H910M903.5 637.6H910M897 585.8H910M903.5 534H910M897 482.2H910M903.5 430.4H910M897 378.6H910M903.5 326.8H910M897 275H910M903.5 223.2H910M897 171.4H910M903.5 119.6H910M897 67.8H910M910 793V806M1092.2 793V799.5M1274.5 793V806M1456.8 793V799.5M1639 793V806M1821.2 793V799.5M2003.5 793V806" stroke="#000" stroke-width="4.2" fill="none"/>
<text x="0" y="0" transform="translate(889.5 817.1) scale(0.875 1)" text-anchor="end" font-size="64" letter-spacing="3" stroke="#fff" stroke-width="1">−<tspan dx="-1.5">100</tspan></text>
<text x="0" y="0" transform="translate(889.5 713.5) scale(0.875 1)" text-anchor="end" font-size="64" letter-spacing="3" stroke="#fff" stroke-width="1">−<tspan dx="-1.5">50</tspan></text>
<text x="0" y="0" transform="translate(889.5 609.9) scale(0.875 1)" text-anchor="end" font-size="64" letter-spacing="3" stroke="#fff" stroke-width="1">0</text>
<text x="0" y="0" transform="translate(889.5 506.3) scale(0.875 1)" text-anchor="end" font-size="64" letter-spacing="3" stroke="#fff" stroke-width="1">50</text>
<text x="0" y="0" transform="translate(889.5 402.7) scale(0.875 1)" text-anchor="end" font-size="64" letter-spacing="3" stroke="#fff" stroke-width="1">100</text>
<text x="0" y="0" transform="translate(889.5 299.1) scale(0.875 1)" text-anchor="end" font-size="64" letter-spacing="3" stroke="#fff" stroke-width="1">150</text>
<text x="0" y="0" transform="translate(889.5 195.5) scale(0.875 1)" text-anchor="end" font-size="64" letter-spacing="3" stroke="#fff" stroke-width="1">200</text>
<text x="0" y="0" transform="translate(889.5 91.9) scale(0.875 1)" text-anchor="end" font-size="64" letter-spacing="3" stroke="#fff" stroke-width="1">250</text>
<text x="910" y="859" text-anchor="middle" font-size="56">0</text>
<text x="1274.5" y="859" text-anchor="middle" font-size="56">20</text>
<text x="1639" y="859" text-anchor="middle" font-size="56">40</text>
<text x="2003.5" y="859" text-anchor="middle" font-size="56">60</text>
<text x="1456.8" y="911.7" text-anchor="middle" font-size="54.5" font-weight="bold">Cutter displacement (mm)</text>
<text transform="translate(766 414) rotate(-90)" x="0" y="0" text-anchor="middle" font-size="54.5" font-weight="bold">Hardness (gf)</text>
<text transform="translate(1389.5 1003.8) scale(0.92 1)" x="0" y="0" text-anchor="middle" font-size="60" font-family="'Liberation Sans',Arial,sans-serif">(a)</text>
<path d="M186 1115.8V1855.4M183.8 1842.4H1281.2" stroke="#000" stroke-width="4.5" fill="none"/>
<path d="M173 1842.4H186M179.5 1790.7H186M173 1738.9H186M179.5 1687.2H186M173 1635.4H186M179.5 1583.7H186M173 1531.9H186M179.5 1480.2H186M173 1428.5H186M179.5 1376.7H186M173 1325H186M179.5 1273.2H186M173 1221.5H186M179.5 1169.7H186M173 1118H186M186 1842.4V1855.4M368.2 1842.4V1848.9M550.3 1842.4V1855.4M732.5 1842.4V1848.9M914.7 1842.4V1855.4M1096.8 1842.4V1848.9M1279 1842.4V1855.4" stroke="#000" stroke-width="4.2" fill="none"/>
<text x="0" y="0" transform="translate(165.5 1866.5) scale(0.875 1)" text-anchor="end" font-size="64" letter-spacing="3" stroke="#fff" stroke-width="1">−<tspan dx="-1.5">100</tspan></text>
<text x="0" y="0" transform="translate(165.5 1763) scale(0.875 1)" text-anchor="end" font-size="64" letter-spacing="3" stroke="#fff" stroke-width="1">−<tspan dx="-1.5">50</tspan></text>
<text x="0" y="0" transform="translate(165.5 1659.6) scale(0.875 1)" text-anchor="end" font-size="64" letter-spacing="3" stroke="#fff" stroke-width="1">0</text>
<text x="0" y="0" transform="translate(165.5 1556.1) scale(0.875 1)" text-anchor="end" font-size="64" letter-spacing="3" stroke="#fff" stroke-width="1">50</text>
<text x="0" y="0" transform="translate(165.5 1452.6) scale(0.875 1)" text-anchor="end" font-size="64" letter-spacing="3" stroke="#fff" stroke-width="1">100</text>
<text x="0" y="0" transform="translate(165.5 1349.1) scale(0.875 1)" text-anchor="end" font-size="64" letter-spacing="3" stroke="#fff" stroke-width="1">150</text>
<text x="0" y="0" transform="translate(165.5 1245.6) scale(0.875 1)" text-anchor="end" font-size="64" letter-spacing="3" stroke="#fff" stroke-width="1">200</text>
<text x="0" y="0" transform="translate(165.5 1142.1) scale(0.875 1)" text-anchor="end" font-size="64" letter-spacing="3" stroke="#fff" stroke-width="1">250</text>
<text x="186" y="1908.4" text-anchor="middle" font-size="56">0</text>
<text x="550.3" y="1908.4" text-anchor="middle" font-size="56">20</text>
<text x="914.7" y="1908.4" text-anchor="middle" font-size="56">40</text>
<text x="1279" y="1908.4" text-anchor="middle" font-size="56">60</text>
<text x="732.5" y="1964.5" text-anchor="middle" font-size="54.5" font-weight="bold">Cutter displacement (mm)</text>
<text transform="translate(42.3 1464.3) rotate(-90)" x="0" y="0" text-anchor="middle" font-size="54.5" font-weight="bold">Hardness (gf)</text>
<text transform="translate(665.6 2052.3) scale(1.0 1)" x="0" y="0" text-anchor="middle" font-size="60" font-family="'Liberation Sans',Arial,sans-serif">(b)</text>
<path d="M1632.7 1115.8V1855.4M1630.5 1842.4H2728.2" stroke="#000" stroke-width="4.5" fill="none"/>
<path d="M1619.7 1842.4H1632.7M1626.2 1790.7H1632.7M1619.7 1738.9H1632.7M1626.2 1687.2H1632.7M1619.7 1635.4H1632.7M1626.2 1583.7H1632.7M1619.7 1531.9H1632.7M1626.2 1480.2H1632.7M1619.7 1428.5H1632.7M1626.2 1376.7H1632.7M1619.7 1325H1632.7M1626.2 1273.2H1632.7M1619.7 1221.5H1632.7M1626.2 1169.7H1632.7M1619.7 1118H1632.7M1632.7 1842.4V1855.4M1814.9 1842.4V1848.9M1997.1 1842.4V1855.4M2179.3 1842.4V1848.9M2361.6 1842.4V1855.4M2543.8 1842.4V1848.9M2726 1842.4V1855.4" stroke="#000" stroke-width="4.2" fill="none"/>
<text x="0" y="0" transform="translate(1612.2 1866.5) scale(0.875 1)" text-anchor="end" font-size="64" letter-spacing="3" stroke="#fff" stroke-width="1">−<tspan dx="-1.5">100</tspan></text>
<text x="0" y="0" transform="translate(1612.2 1763) scale(0.875 1)" text-anchor="end" font-size="64" letter-spacing="3" stroke="#fff" stroke-width="1">−<tspan dx="-1.5">50</tspan></text>
<text x="0" y="0" transform="translate(1612.2 1659.6) scale(0.875 1)" text-anchor="end" font-size="64" letter-spacing="3" stroke="#fff" stroke-width="1">0</text>
<text x="0" y="0" transform="translate(1612.2 1556.1) scale(0.875 1)" text-anchor="end" font-size="64" letter-spacing="3" stroke="#fff" stroke-width="1">50</text>
<text x="0" y="0" transform="translate(1612.2 1452.6) scale(0.875 1)" text-anchor="end" font-size="64" letter-spacing="3" stroke="#fff" stroke-width="1">100</text>
<text x="0" y="0" transform="translate(1612.2 1349.1) scale(0.875 1)" text-anchor="end" font-size="64" letter-spacing="3" stroke="#fff" stroke-width="1">150</text>
<text x="0" y="0" transform="translate(1612.2 1245.6) scale(0.875 1)" text-anchor="end" font-size="64" letter-spacing="3" stroke="#fff" stroke-width="1">200</text>
<text x="0" y="0" transform="translate(1612.2 1142.1) scale(0.875 1)" text-anchor="end" font-size="64" letter-spacing="3" stroke="#fff" stroke-width="1">250</text>
<text x="1632.7" y="1908.4" text-anchor="middle" font-size="56">0</text>
<text x="1997.1" y="1908.4" text-anchor="middle" font-size="56">20</text>
<text x="2361.6" y="1908.4" text-anchor="middle" font-size="56">40</text>
<text x="2726" y="1908.4" text-anchor="middle" font-size="56">60</text>
<text x="2180" y="1964.5" text-anchor="middle" font-size="54.5" font-weight="bold">Cutter displacement (mm)</text>
<text transform="translate(1478.5 1463.3) rotate(-90)" x="0" y="0" text-anchor="middle" font-size="54.5" font-weight="bold">Hardness (gf)</text>
<text transform="translate(2111.7 2052.3) scale(1.0 1)" x="0" y="0" text-anchor="middle" font-size="60" font-family="'Liberation Sans',Arial,sans-serif">(c)</text>
<path d="M1459.4 31.7H1618.8" stroke="#d60818" stroke-width="4.2" stroke-linecap="round"/>
<text x="1638" y="56.7" font-size="72.5">6.67% (w/v)</text>
<path d="M1459.4 119.7H1618.8" stroke="#20903e" stroke-width="4.2" stroke-linecap="round"/>
<text x="1640" y="144.7" font-size="72.5">13.33% (w/v)</text>
<path d="M1459.4 207.7H1618.8" stroke="#0a5aa6" stroke-width="4.2" stroke-linecap="round"/>
<text x="1637" y="232.7" font-size="72.5">20.00% (w/v)</text>
<path d="M776.7 1079.2H936.8" stroke="#0a5aa6" stroke-width="4.2" stroke-linecap="round"/>
<text x="954.5" y="1104.2" font-size="73">0 mol/L</text>
<path d="M776.7 1167.2H936.8" stroke="#d60818" stroke-width="4.2" stroke-linecap="round"/>
<text x="954.5" y="1192.2" font-size="73">0.029 mol/L</text>
<path d="M776.7 1255.2H936.8" stroke="#20903e" stroke-width="4.2" stroke-linecap="round"/>
<text x="954.5" y="1280.2" font-size="73">0.058 mol/L</text>
<path d="M776.7 1343.2H936.8" stroke="#964592" stroke-width="4.2" stroke-linecap="round"/>
<text x="954.5" y="1368.2" font-size="73">0.088 mol/L</text>
<path d="M776.7 1431.2H936.8" stroke="#f57800" stroke-width="4.2" stroke-linecap="round"/>
<text x="954.5" y="1456.2" font-size="73">0.117 mol/L</text>
<path d="M776.7 1519.2H936.8" stroke="#984818" stroke-width="4.2" stroke-linecap="round"/>
<text x="954.5" y="1544.2" font-size="73">0.146 mol/L</text>
<path d="M2223.2 1079.2H2383.3" stroke="#0a5aa6" stroke-width="4.2" stroke-linecap="round"/>
<text x="2401.5" y="1104.2" font-size="73">0 mol/L</text>
<path d="M2223.2 1167.2H2383.3" stroke="#d60818" stroke-width="4.2" stroke-linecap="round"/>
<text x="2401.5" y="1192.2" font-size="73">0.171 mol/L</text>
<path d="M2223.2 1255.2H2383.3" stroke="#20903e" stroke-width="4.2" stroke-linecap="round"/>
<text x="2401.5" y="1280.2" font-size="73">0.343 mol/L</text>
<path d="M2223.2 1343.2H2383.3" stroke="#964592" stroke-width="4.2" stroke-linecap="round"/>
<text x="2401.5" y="1368.2" font-size="73">0.514 mol/L</text>
<path d="M2223.2 1431.2H2383.3" stroke="#f57800" stroke-width="4.2" stroke-linecap="round"/>
<text x="2401.5" y="1456.2" font-size="73">0.685 mol/L</text>
<path d="M2223.2 1519.2H2383.3" stroke="#984818" stroke-width="4.2" stroke-linecap="round"/>
<text x="2401.5" y="1544.2" font-size="73">0.856 mol/L</text>
</svg>
</body></html>
